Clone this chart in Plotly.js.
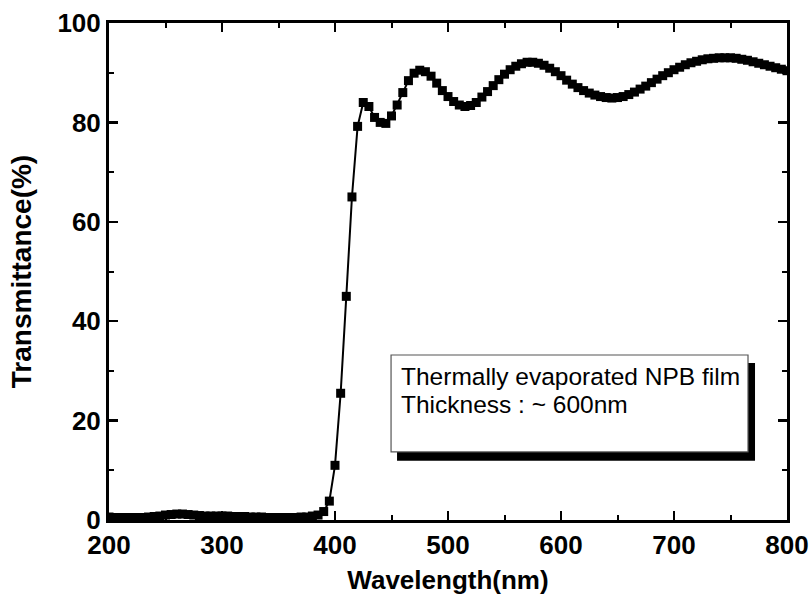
<!DOCTYPE html>
<html>
<head>
<meta charset="utf-8">
<script src="https://cdn.plot.ly/plotly-3.0.1.min.js"></script>
<style>html,body{margin:0;padding:0;background:#fff;}#chart{width:812px;height:610px;}</style>
</head>
<body>
<div id="chart"></div>
<script>
var wavelength = [200,205,210,215,220,225,230,235,240,245,250,255,260,265,270,275,280,285,290,295,
300,305,310,315,320,325,330,335,340,345,350,355,360,365,370,375,380,385,390,395,
400,405,410,415,420,425,430,435,440,445,450,455,460,465,470,475,480,485,490,495,
500,505,510,515,520,525,530,535,540,545,550,555,560,565,570,575,580,585,590,595,
600,605,610,615,620,625,630,635,640,645,650,655,660,665,670,675,680,685,690,695,
700,705,710,715,720,725,730,735,740,745,750,755,760,765,770,775,780,785,790,795,800];
var transmittance = [0.6,0.5,0.5,0.5,0.5,0.5,0.5,0.6,0.7,0.8,1.0,1.1,1.2,1.2,1.1,1.0,0.9,0.8,0.8,0.8,
0.8,0.8,0.7,0.7,0.7,0.6,0.6,0.6,0.5,0.5,0.5,0.5,0.5,0.5,0.6,0.6,0.8,1.0,1.7,3.8,
11,25.5,45,65,79.2,84,83.2,81,80,79.8,81.3,83.5,86,88.4,89.9,90.5,90.2,89.3,87.9,86.4,
85.2,84.2,83.5,83.2,83.4,84.0,85.1,86.2,87.4,88.6,89.7,90.6,91.3,91.8,92.1,92.1,91.9,91.5,90.9,90.2,
89.4,88.5,87.7,87.0,86.4,85.9,85.5,85.2,85.0,84.9,85.0,85.2,85.6,86.1,86.7,87.3,88.0,88.7,89.4,90.0,
90.6,91.1,91.6,92.0,92.3,92.6,92.8,92.9,93.0,93.0,93.0,92.9,92.7,92.5,92.2,91.9,91.6,91.3,91.0,90.7,90.4];
var xTitle = 'Wavelength(nm)';
var yTitle = 'Transmittance(%)';
var noteLines = ['Thermally evaporated NPB film', 'Thickness : ~ 600nm'];

var FONT = 'Liberation Sans, Arial, sans-serif';
var trace = {
  x: wavelength, y: transmittance, type: 'scatter', mode: 'lines+markers',
  line: {color: '#000', width: 2},
  marker: {symbol: 'square', size: 9, color: '#000'},
  hoverinfo: 'skip', showlegend: false
};
var axisCommon = {
  showline: true, linecolor: '#000', linewidth: 3, mirror: 'allticks',
  ticks: 'inside', ticklen: 9, tickwidth: 2.5, tickcolor: '#000',
  showgrid: false, zeroline: false,
  tickfont: {family: FONT, size: 26, color: '#000', weight: 'bold'}
};
var layout = {
  width: 812, height: 610,
  margin: {l: 109, r: 25, t: 23, b: 90},
  paper_bgcolor: '#fff', plot_bgcolor: '#fff',
  showlegend: false,
  xaxis: Object.assign({}, axisCommon, {
    range: [200, 800], dtick: 100, tick0: 200,
    minor: {dtick: 50, ticks: 'inside', ticklen: 5, tickwidth: 2, tickcolor: '#000'},
    title: {text: xTitle, font: {family: FONT, size: 26, color: '#000', weight: 'bold'}, standoff: 12}
  }),
  yaxis: Object.assign({}, axisCommon, {
    range: [0, 100], dtick: 20, tick0: 0,
    minor: {dtick: 10, ticks: 'inside', ticklen: 5, tickwidth: 2, tickcolor: '#000'},
    title: {text: yTitle, font: {family: FONT, size: 28, color: '#000', weight: 'bold'}, standoff: 18}
  }),
  shapes: [
    {type: 'rect', xref: 'x', yref: 'y', x0: 454.9, x1: 771.7, y0: 11.9, y1: 31.6,
     fillcolor: '#000', line: {width: 0}, layer: 'above'},
    {type: 'rect', xref: 'x', yref: 'y', x0: 449.6, x1: 765.5, y0: 13.7, y1: 33.2,
     fillcolor: '#fff', line: {color: '#555', width: 1.2}, layer: 'above'}
  ],
  annotations: [
    {xref: 'x', yref: 'y', x: 457.0, y: 28.97, xanchor: 'left', yanchor: 'middle',
     text: noteLines[0], showarrow: false, font: {family: FONT, size: 24.5, color: '#000'}},
    {xref: 'x', yref: 'y', x: 457.0, y: 23.3, xanchor: 'left', yanchor: 'middle',
     text: noteLines[1], showarrow: false, font: {family: FONT, size: 24.5, color: '#000'}}
  ]
};
Plotly.newPlot('chart', [trace], layout, {displayModeBar: false, staticPlot: true});
</script>
</body>
</html>
